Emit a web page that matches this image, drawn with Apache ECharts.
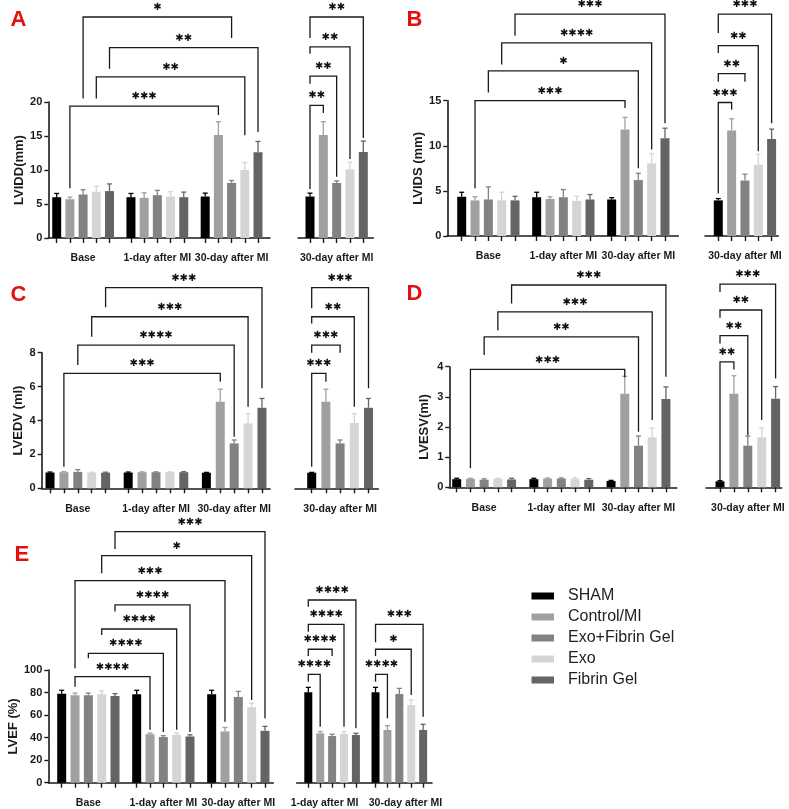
<!DOCTYPE html>
<html>
<head>
<meta charset="utf-8">
<script src="https://cdn.jsdelivr.net/npm/echarts@6/dist/echarts.min.js"></script>
<style>
    html, body { margin: 0; padding: 0; background: #fff; }
    #chart { width: 789px; height: 809px; }
</style>
</head>
<body>
<div id="chart"></div>
<script>
// groups and time points
const treatments = ['SHAM', 'Control/MI', 'Exo+Fibrin Gel', 'Exo', 'Fibrin Gel'];
const timeLabels = ['Base', '1-day after MI', '30-day after MI'];
const day30Label = ['30-day after MI'];
const day1and30Labels = ['1-day after MI', '30-day after MI'];

// LVIDD (mm): rows = Base, 1-day, 30-day
const lviddMean = [[6.0, 5.7, 6.4, 6.8, 6.9], [6.0, 5.9, 6.3, 6.1, 6.0], [6.1, 15.15, 8.1, 10.0, 12.6]];
const lviddSem = [[0.55, 0.3, 0.7, 0.8, 1.05], [0.55, 0.75, 0.7, 0.7, 0.75], [0.5, 1.95, 0.35, 1.1, 1.6]];
const lviddSideMean = [[6.1, 15.15, 8.1, 10.1, 12.65]];
const lviddSideSem = [[0.5, 1.95, 0.3, 1.05, 1.6]];
// brackets: [from bar, to bar, line level, left end, right end, stars]
const lviddPairs = [[1, 11, 19.4, 7.3, 18.1, 3], [3, 13, 23.7, 20.5, 15.1, 2], [4, 14, 28.0, 24.9, 15.6, 2], [2, 12, 32.5, 20.5, 29.4, 1]];
const lviddSidePairs = [[0, 1, 19.5, 7.2, 18.4, 2], [0, 2, 23.8, 22.7, 9.0, 2], [0, 3, 28.1, 27.1, 11.6, 2], [0, 4, 32.5, 29.4, 14.7, 2]];

// LVIDS (mm)
const lvidsMean = [[4.35, 3.95, 4.05, 3.95, 3.95], [4.3, 4.1, 4.3, 3.9, 4.05], [4.05, 11.8, 6.2, 8.05, 10.85]];
const lvidsSem = [[0.5, 0.4, 1.4, 0.9, 0.45], [0.55, 0.25, 0.85, 0.5, 0.55], [0.2, 1.35, 0.75, 1.1, 1.1]];
const lvidsSideMean = [[3.95, 11.7, 6.15, 7.9, 10.75]];
const lvidsSideSem = [[0.2, 1.3, 0.7, 1.15, 1.1]];
const lvidsPairs = [[1, 11, 15.0, 5.3, 14.2, 3], [2, 12, 18.3, 15.9, 7.5, 1], [3, 13, 21.4, 19.0, 9.6, 4], [4, 14, 24.6, 22.2, 12.5, 3]];
const lvidsSidePairs = [[0, 1, 14.8, 4.7, 14.0, 3], [0, 2, 18.0, 17.1, 17.1, 2], [0, 3, 21.1, 20.3, 9.4, 2], [0, 4, 24.6, 22.5, 12.5, 3]];

// LVEDV (ml)
const lvedvMean = [[0.93, 0.95, 0.97, 0.93, 0.92], [0.93, 0.95, 0.95, 0.95, 0.95], [0.92, 5.1, 2.65, 3.83, 4.75]];
const lvedvSem = [[0.03, 0.03, 0.13, 0.02, 0.03], [0.03, 0.02, 0.02, 0.02, 0.03], [0.02, 0.75, 0.2, 0.58, 0.55]];
const lvedvSideMean = [[0.92, 5.1, 2.65, 3.85, 4.75]];
const lvedvSideSem = [[0.02, 0.75, 0.2, 0.55, 0.55]];
const lvedvPairs = [[1, 11, 6.78, 1.27, 6.29, 3], [2, 12, 8.45, 7.27, 3.04, 4], [3, 13, 10.12, 8.94, 4.81, 3], [4, 14, 11.84, 10.68, 5.9, 3]];
const lvedvSidePairs = [[0, 1, 6.78, 1.27, 6.29, 3], [0, 2, 8.45, 8.0, 8.0, 3], [0, 3, 10.12, 9.73, 4.81, 2], [0, 4, 11.84, 10.62, 5.9, 3]];

// LVESV (ml)
const lvesvMean = [[0.27, 0.28, 0.25, 0.28, 0.26], [0.27, 0.29, 0.29, 0.28, 0.25], [0.21, 3.1, 1.38, 1.66, 2.93]];
const lvesvSem = [[0.03, 0.02, 0.03, 0.02, 0.04], [0.03, 0.02, 0.02, 0.04, 0.04], [0.02, 0.58, 0.32, 0.3, 0.4]];
const lvesvSideMean = [[0.2, 3.1, 1.38, 1.66, 2.94]];
const lvesvSideSem = [[0.02, 0.6, 0.32, 0.31, 0.4]];
const lvesvPairs = [[1, 11, 3.91, 0.63, 3.65, 3], [2, 12, 4.99, 4.39, 1.84, 2], [3, 13, 5.82, 5.21, 2.23, 3], [4, 14, 6.71, 6.1, 3.67, 3]];
const lvesvSidePairs = [[0, 1, 4.16, 0.24, 3.91, 2], [0, 2, 5.03, 4.77, 1.73, 2], [0, 3, 5.88, 5.62, 2.23, 2], [0, 4, 6.74, 6.48, 3.61, 3]];

// LVEF (%)
const lvefMean = [[79, 77.5, 77.5, 78.5, 77], [78.5, 43, 40.5, 42.5, 41], [78.5, 45.5, 76, 67, 46]];
const lvefSem = [[3, 2, 2, 3, 2], [3.5, 1, 1.2, 1.5, 1.5], [3.5, 3.5, 5, 3.5, 4]];
const lvefSideMean = [[80.2, 43.8, 41.4, 43.2, 42.3], [80.2, 46.8, 78.7, 68.9, 46.8]];
const lvefSideSem = [[4.4, 1.6, 1.6, 2, 1.5], [4.4, 3.8, 5, 4.5, 5]];
const lvefPairs = [[1, 6, 94.1, 85.2, 47, 4], [2, 7, 114.8, 110.4, 45, 4], [3, 8, 136.4, 131.1, 47, 4], [4, 9, 157.7, 151.8, 45, 4],
    [1, 11, 179.3, 101.5, 54.1, 3], [3, 13, 201.4, 185.8, 73.4, 1], [4, 14, 222.7, 207.4, 57.1, 3]];
const lvefSidePairs = [[0, 1, 96.2, 89.6, 49.7, 4], [0, 2, 118.4, 112.4, 112.4, 4], [0, 3, 140.5, 134, 49.7, 4], [0, 4, 162.1, 156.2, 48.3, 4],
    [5, 6, 96.2, 89.6, 57.1, 4], [5, 8, 118.4, 112.4, 77.8, 1], [5, 9, 140.5, 124.6, 58.6, 3]];

const colors = ['#000000', '#a0a0a0', '#828282', '#d5d5d5', '#646464'];
const ink = '#1a1a1a';

// box = [left, top, right, bottom] of the plot area in px
const parts = [
    { name: 'LVIDD(mm)', max: 20, interval: 5, nameGap: 21.5, mean: lviddMean, sem: lviddSem, pairs: lviddPairs, labels: timeLabels, box: [48.3, 102, 270, 238], first: 56.7, step: 13.2, bw: 9 },
    { side: true, max: 20, interval: 5, mean: lviddSideMean, sem: lviddSideSem, pairs: lviddSidePairs, labels: day30Label, box: [298, 102, 373.3, 238], first: 310, step: 13.33, bw: 9 },
    { name: 'LVIDS (mm)', max: 15, interval: 5, nameGap: 15, mean: lvidsMean, sem: lvidsSem, pairs: lvidsPairs, labels: timeLabels, box: [447.3, 100.7, 678.3, 236], first: 461.7, step: 13.33, bw: 9 },
    { side: true, max: 15, interval: 5, mean: lvidsSideMean, sem: lvidsSideSem, pairs: lvidsSidePairs, labels: day30Label, box: [705, 100.7, 778.3, 236], first: 718.3, step: 13.33, bw: 9 },
    { name: 'LVEDV (ml)', max: 8, interval: 2, nameGap: 17, mean: lvedvMean, sem: lvedvSem, pairs: lvedvPairs, labels: timeLabels, box: [41.7, 352.7, 270, 488.3], first: 50, step: 13.9, bw: 9 },
    { side: true, max: 8, interval: 2, mean: lvedvSideMean, sem: lvedvSideSem, pairs: lvedvSidePairs, labels: day30Label, box: [295, 352.7, 378.3, 488.3], first: 311.7, step: 14.2, bw: 9 },
    { name: 'LVESV(ml)', max: 4, interval: 1, nameGap: 18.5, mean: lvesvMean, sem: lvesvSem, pairs: lvesvPairs, labels: timeLabels, box: [449.3, 366.7, 676.7, 487.3], first: 456.7, step: 13.72, bw: 9 },
    { side: true, max: 4, interval: 1, mean: lvesvSideMean, sem: lvesvSideSem, pairs: lvesvSidePairs, labels: day30Label, box: [706, 366.7, 781.7, 487.3], first: 720, step: 13.9, bw: 9 },
    { name: 'LVEF (%)', max: 100, interval: 20, nameGap: 24, mean: lvefMean, sem: lvefSem, pairs: lvefPairs, labels: timeLabels, box: [48.3, 670, 273.3, 782.7], first: 61.7, step: 13.33, bw: 9 },
    { side: true, max: 100, interval: 20, mean: lvefSideMean, sem: lvefSideSem, pairs: lvefSidePairs, labels: day1and30Labels, box: [296.7, 670, 432, 782.7], first: 308.3, step: 11.9, bw: 8, labelAt: [1.36, 8.17] }
];

const letters = [['A', 10.5, 9], ['B', 406.5, 9], ['C', 10.5, 284], ['D', 406.5, 282.5], ['E', 14.5, 544]];

// upper-only error bar in the colour of its bar
function renderErr(params, api) {
    const x = api.value(0), m = api.value(1), e = api.value(2);
    const col = colors[api.value(3)];
    const p0 = api.coord([x, m]), p1 = api.coord([x, m + e]);
    return {
        type: 'group', children: [
            { type: 'line', shape: { x1: p0[0], y1: p0[1], x2: p1[0], y2: p1[1] }, style: { stroke: col, lineWidth: 1.3 } },
            { type: 'line', shape: { x1: p1[0] - 2.5, y1: p1[1], x2: p1[0] + 2.5, y2: p1[1] }, style: { stroke: col, lineWidth: 1.3 } }
        ]
    };
}

// significance bracket with stars
function renderBracket(params, api) {
    const x1 = api.value(0), x2 = api.value(1), top = api.value(2);
    const a = api.coord([x1, api.value(3)]), b = api.coord([x1, top]);
    const c = api.coord([x2, top]), d = api.coord([x2, api.value(4)]);
    return {
        type: 'group', children: [
            { type: 'polyline', shape: { points: [a, b, c, d] }, style: { stroke: ink, lineWidth: 1.3, fill: 'none' } },
            {
                type: 'text', style: {
                    text: '✱'.repeat(api.value(5)), x: (b[0] + c[0]) / 2, y: b[1] - 9.5,
                    align: 'center', verticalAlign: 'middle', fontSize: 10, fontWeight: 'bold', fontFamily: 'DejaVu Sans', fill: '#111'
                }
            }
        ]
    };
}

const grid = [], xAxis = [], yAxis = [], series = [];

parts.forEach((p, k) => {
    const starts = p.mean.length === 3 ? [0, 5.625, 11.25] : p.mean.length === 2 ? [0, 5.65] : [0];
    const xs = [];
    p.mean.forEach((grp, g) => grp.forEach((v, i) => xs.push(starts[g] + i)));
    const centers = p.labelAt || p.mean.map((grp, g) => starts[g] + 2);
    const [l, t, r, b] = p.box;
    grid.push({ left: l, top: t, width: r - l, height: b - t, outerBoundsMode: 'none' });
    xAxis.push({
        gridIndex: k, type: 'value',
        min: (l - p.first) / p.step, max: (r - p.first) / p.step,
        axisLine: { show: true, onZero: false, lineStyle: { color: ink, width: 1.6 } },
        axisTick: { show: true, customValues: xs, length: 5, lineStyle: { color: ink, width: 1.4 } },
        axisLabel: {
            customValues: centers, margin: 15, color: ink, fontSize: 10.5, fontWeight: 'bold', hideOverlap: false,
            formatter: v => {
                const g = centers.findIndex(c => Math.abs(c - v) < 1e-6);
                return g < 0 ? '' : p.labels[g];
            }
        },
        splitLine: { show: false }
    });
    yAxis.push({
        gridIndex: k, type: 'value', min: 0, max: p.max, interval: p.interval,
        show: !p.side,
        name: p.name || '', nameLocation: 'middle', nameGap: p.nameGap || 20, nameRotate: 90,
        nameTextStyle: { fontSize: 13, fontWeight: 'bold', color: ink },
        axisLine: { show: true, onZero: false, lineStyle: { color: ink, width: 1.6 } },
        axisTick: { show: true, length: 4, lineStyle: { color: ink, width: 1.4 } },
        axisLabel: { margin: 6, fontSize: 11, fontWeight: 'bold', color: ink },
        splitLine: { show: false }
    });
    treatments.forEach((name, ti) => {
        series.push({
            type: 'bar', name: name, xAxisIndex: k, yAxisIndex: k,
            barWidth: p.bw, barGap: '-100%', silent: true,
            itemStyle: { color: colors[ti] },
            data: p.mean.map((grp, g) => [starts[g] + ti, grp[ti]])
        });
    });
    series.push({
        type: 'custom', xAxisIndex: k, yAxisIndex: k, z: 3, clip: false, silent: true,
        encode: { x: 0, y: 1 },
        data: xs.map((x, j) => [x, p.mean[Math.floor(j / 5)][j % 5], p.sem[Math.floor(j / 5)][j % 5], j % 5]),
        renderItem: renderErr
    });
    series.push({
        type: 'custom', xAxisIndex: k, yAxisIndex: k, z: 4, clip: false, silent: true,
        encode: { x: 0, y: 2 },
        data: p.pairs.map(q => [xs[q[0]], xs[q[1]], q[2], q[3], q[4], q[5]]),
        renderItem: renderBracket
    });
});

const chart = echarts.init(document.getElementById('chart'), null, { renderer: 'canvas' });
chart.setOption({
    animation: false,
    backgroundColor: '#ffffff',
    textStyle: { fontFamily: 'Liberation Sans, Arial, sans-serif' },
    grid: grid,
    xAxis: xAxis,
    yAxis: yAxis,
    legend: {
        data: treatments, orient: 'vertical', left: 531.5, top: 588, padding: 0,
        icon: 'rect', itemWidth: 22.5, itemHeight: 7, itemGap: 5, selectedMode: false,
        textStyle: { fontSize: 16, color: '#222', lineHeight: 16, padding: [0, 0, 0, 9] }
    },
    graphic: letters.map(([txt, x, y]) => ({
        type: 'text', left: x, top: y,
        style: { text: txt, fontSize: 22, fontWeight: 'bold', fill: '#e3100f', fontFamily: 'Liberation Sans, Arial, sans-serif' }
    })),
    series: series
});
</script>
</body>
</html>
